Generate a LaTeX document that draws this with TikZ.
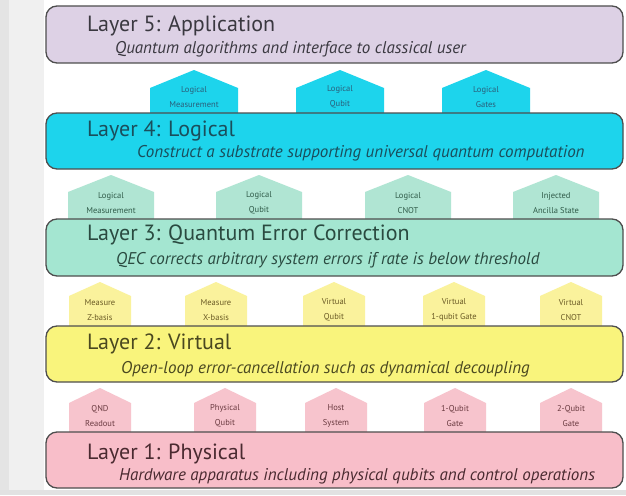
\documentclass[tikz,border=0pt]{standalone}
\usepackage{fontspec}
\setmainfont{PT Sans}
\definecolor{bgleft}{HTML}{E4E4E4}
\definecolor{bgleftb}{HTML}{F0F0F0}
\definecolor{bgbot}{HTML}{E2E2E2}
\definecolor{boxline}{HTML}{4E4E4E}
\definecolor{lavfill}{HTML}{DDD1E5}
\definecolor{cyanfill}{HTML}{1DD4EC}
\definecolor{mintfill}{HTML}{A4E6D1}
\definecolor{minttab}{HTML}{B0E5D3}
\definecolor{yelfill}{HTML}{F9F47C}
\definecolor{yeltab}{HTML}{FAF29C}
\definecolor{pinkfill}{HTML}{F8BEC9}
\definecolor{pinktab}{HTML}{F7C4CD}
\definecolor{lavtext}{HTML}{3A3840}
\definecolor{cyantext}{HTML}{1A4E5C}
\definecolor{minttext}{HTML}{2A4A40}
\definecolor{yeltext}{HTML}{4A4820}
\definecolor{pinktext}{HTML}{4A2A30}
\definecolor{cyantabtext}{HTML}{2A5E7A}
\definecolor{minttabtext}{HTML}{2F5A48}
\definecolor{yeltabtext}{HTML}{6A5A25}
\definecolor{pinktabtext}{HTML}{6A3A40}
\newcommand\pent[9]{%
  \fill[#7] (#2-#3,#6) -- (#2-#3,#5) -- (#2,#4) -- (#2+#3,#5) -- (#2+#3,#6) -- cycle;
  \node[tabtext, text=#8] (#1) at (#2,{#6-17}) {#9};
}
\begin{document}
\begin{tikzpicture}[x=1pt,y=-1pt,
  layerbox/.style={draw=boxline, line width=1.3pt, rounded corners=11pt},
  titletext/.style={anchor=base west, inner sep=0pt, font=\fontsize{22}{24}\selectfont},
  subtext/.style={anchor=base west, inner sep=0pt, font=\fontsize{17}{19}\selectfont\itshape},
  tabtext/.style={align=center, inner sep=0pt, font=\fontsize{8.5}{15.5}\selectfont}]
\useasboundingbox (0,0) rectangle (626,495);
\fill[white] (0,0) rectangle (626,495);
\fill[bgleftb] (0,0) rectangle (44,495);
\fill[bgleft] (0,0) rectangle (9,495);
\fill[bgbot] (0,490) rectangle (626,495);

% tabs between layer 5 and 4
\pent{lm4}{194}{44}{70}{88}{114}{cyanfill}{cyantabtext}{Logical\\Measurement}
\pent{lq4}{340}{44}{70}{88}{114}{cyanfill}{cyantabtext}{Logical\\Qubit}
\pent{lg4}{486}{44}{70}{88}{114}{cyanfill}{cyantabtext}{Logical\\Gates}
% tabs between layer 4 and 3
\pent{lm3}{111}{43}{175}{192}{220}{minttab}{minttabtext}{Logical\\Measurement}
\pent{lq3}{259}{43}{175}{192}{220}{minttab}{minttabtext}{Logical\\Qubit}
\pent{lc3}{408}{43}{175}{192}{220}{minttab}{minttabtext}{Logical\\CNOT}
\pent{ia3}{556}{43}{175}{192}{220}{minttab}{minttabtext}{Injected\\Ancilla State}
% tabs between layer 3 and 2
\pent{mz2}{100}{31}{282}{296}{327}{yeltab}{yeltabtext}{Measure\\Z-basis}
\pent{mx2}{216}{31}{282}{296}{327}{yeltab}{yeltabtext}{Measure\\X-basis}
\pent{vq2}{334}{31}{282}{296}{327}{yeltab}{yeltabtext}{Virtual\\Qubit}
\pent{vg2}{454}{31}{282}{296}{327}{yeltab}{yeltabtext}{Virtual\\1-qubit Gate}
\pent{vc2}{571}{31}{282}{296}{327}{yeltab}{yeltabtext}{Virtual\\CNOT}
% tabs between layer 2 and 1
\pent{qr1}{100}{31}{388}{403}{433}{pinktab}{pinktabtext}{QND\\Readout}
\pent{pq1}{225}{31}{388}{403}{433}{pinktab}{pinktabtext}{Physical\\Qubit}
\pent{hs1}{336}{31}{388}{403}{433}{pinktab}{pinktabtext}{Host\\System}
\pent{og1}{455}{31}{388}{403}{433}{pinktab}{pinktabtext}{1-Qubit\\Gate}
\pent{tg1}{571}{31}{388}{403}{433}{pinktab}{pinktabtext}{2-Qubit\\Gate}

% layer boxes
\draw[layerbox, fill=lavfill] (46,6) rectangle (623,63);
\draw[layerbox, fill=cyanfill] (46,113) rectangle (623,169);
\draw[layerbox, fill=mintfill] (46,219) rectangle (623,276);
\draw[layerbox, fill=yelfill] (46,326) rectangle (623,382);
\draw[layerbox, fill=pinkfill] (46,432) rectangle (623,488);

\node[titletext, text=lavtext] (t5) at (87,32) {Layer 5: Application};
\node[subtext, text=lavtext] (s5) at (115,54) {Quantum algorithms and interface to classical user};
\node[titletext, text=cyantext] (t4) at (87,136) {Layer 4: Logical};
\node[subtext, text=cyantext] (s4) at (137,157) {Construct a substrate supporting universal quantum computation};
\node[titletext, text=minttext] (t3) at (87,240) {Layer 3: Quantum Error Correction};
\node[subtext, text=minttext] (s3) at (116,264) {QEC corrects arbitrary system errors if rate is below threshold};
\node[titletext, text=yeltext] (t2) at (87,349) {Layer 2: Virtual};
\node[subtext, text=yeltext] (s2) at (121,373) {Open-loop error-cancellation such as dynamical decoupling};
\node[titletext, text=pinktext] (t1) at (87,459) {Layer 1: Physical};
\node[subtext, text=pinktext] (s1) at (119,480) {Hardware apparatus including physical qubits and control operations};
\end{tikzpicture}
\end{document}
